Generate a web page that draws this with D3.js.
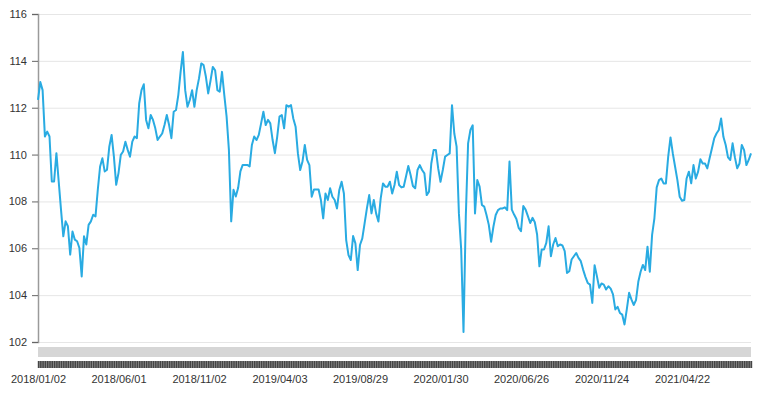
<!DOCTYPE html>
<html>
<head>
<meta charset="utf-8" />
<title>Line chart</title>
<style>
  body { margin: 0; background: #fff; font-family: "Liberation Sans", Arial, sans-serif; }
  .grid line { stroke: #e6e6e6; }
  .grid path { display: none; }
  .y.axis text, .x.axis text { font-size: 11px; fill: #333; }
  .line { fill: none; stroke: #29abe2; stroke-width: 2; stroke-linejoin: round; }
</style>
</head>
<body>
<script src="https://cdn.jsdelivr.net/npm/d3@7"></script>
<div id="graphic"></div>
<script>
// tick labels shown along the x axis (one every 35 samples)
var tickLabels = ["2018/01/02", "2018/06/01", "2018/11/02", "2019/04/03", "2019/08/29",
                  "2020/01/30", "2020/06/26", "2020/11/24", "2021/04/22"];
var labelStep = 35;

var yTicks = [102, 104, 106, 108, 110, 112, 114, 116];

// rate, roughly every third trading day
var values = [
  112.33, 113.1, 112.75, 110.77, 110.98, 110.77, 108.85, 108.85, 110.06, 108.85,
  107.65, 106.51, 107.15, 106.94, 105.73, 106.72, 106.37, 106.3, 106.01, 104.8,
  106.51, 106.16, 107.0, 107.15, 107.43, 107.36, 108.5, 109.49, 109.84, 109.28,
  109.35, 110.34, 110.84, 109.91, 108.71, 109.21, 109.99, 110.13, 110.55, 110.2,
  109.91, 110.55, 110.77, 110.7, 112.18, 112.75, 113.0, 111.48, 111.12, 111.69,
  111.48, 111.12,
  110.62, 110.77, 110.9, 111.26, 111.69, 111.26, 110.7, 111.83, 111.9, 112.54,
  113.53, 114.38, 112.75, 112.04, 112.33, 112.75, 112.04, 112.75, 113.25, 113.89,
  113.82, 113.32, 112.61, 113.15, 113.74, 113.6, 112.75, 112.68, 113.53, 112.54,
  111.62, 110.2, 107.15, 108.5, 108.21, 108.57, 109.28, 109.56, 109.56, 109.56,
  109.49, 110.41, 110.77, 110.62, 110.84, 111.33, 111.83, 111.26, 111.48, 111.33,
  110.62, 110.06,
  110.76, 111.62, 111.69, 111.12, 112.11, 112.04, 112.11, 111.54, 111.19, 110.05,
  109.34, 109.7, 110.41, 109.77, 109.55, 108.2, 108.51, 108.51, 108.51, 108.06,
  107.28, 108.34, 108.06, 108.56, 108.2, 108.06, 107.7, 108.49, 108.84, 108.34,
  106.35, 105.71, 105.5, 106.52, 106.21, 105.07, 106.14, 106.42, 107.06, 107.7,
  108.27, 107.49, 108.06, 107.49, 107.14, 108.13, 108.77, 108.63, 108.63, 108.84,
  108.34,
  108.7, 109.27, 108.7, 108.6, 108.63, 109.06, 109.51, 109.13, 108.66, 108.56,
  109.34, 109.55, 109.34, 109.2, 108.27, 108.42, 109.62, 110.19, 110.19, 109.41,
  108.84, 109.34, 109.91, 109.98, 110.05, 112.11, 110.9, 110.34, 107.49, 105.93,
  102.43, 107.35, 110.48, 111.05, 111.25, 107.49, 108.91, 108.63, 107.85, 107.78,
  107.42, 107.0, 106.28, 106.92, 107.42, 107.63, 107.7, 107.7, 107.75, 107.63,
  109.7,
  107.65, 107.44, 107.25, 106.87, 106.73, 107.8, 107.65, 107.37, 107.08, 107.3,
  107.11, 106.59, 105.23, 105.95, 105.95, 106.23, 106.94, 105.66, 106.16, 106.44,
  106.09, 106.16, 106.12, 105.88, 104.95, 105.02, 105.52, 105.66, 105.8, 105.59,
  105.45, 105.09, 104.78, 104.52, 104.45, 103.67, 105.28, 104.81, 104.31, 104.5,
  104.45, 104.24, 104.38, 104.28, 104.03, 103.39, 103.5, 103.24, 103.17, 102.75,
  103.39,
  104.1, 103.82, 103.58, 103.79, 104.57, 105.0, 105.29, 105.07, 106.07, 105.0,
  106.57, 107.28, 108.6, 108.91, 108.98, 108.77, 108.77, 109.91, 110.73, 110.05,
  109.48, 108.91, 108.2, 108.03, 108.06, 108.98, 109.27, 108.77, 109.55, 108.98,
  109.27, 109.8, 109.62, 109.62, 109.41, 109.84, 110.26, 110.69, 110.9, 111.05,
  111.54, 110.76, 110.41, 109.88, 109.77, 110.48, 109.88, 109.41, 109.62, 110.41,
  110.19, 109.55, 109.77, 110.05
];

var marginLeft = 38, plotRight = 751, plotTop = 14, plotBottom = 342;

var svg = d3.select("#graphic").append("svg")
    .attr("width", 765)
    .attr("height", 394);

var x = d3.scaleLinear()
    .domain([0, values.length - 1])
    .range([marginLeft, plotRight]);

var y = d3.scaleLinear()
    .domain([102, 116])
    .range([plotBottom, plotTop]);

// horizontal grid
svg.append("g")
    .attr("class", "grid")
    .attr("transform", "translate(" + marginLeft + ",0)")
    .call(d3.axisRight(y).tickValues(yTicks).tickSize(plotRight - marginLeft).tickFormat(""));

// y axis
var yAxis = svg.append("g")
    .attr("class", "y axis")
    .attr("transform", "translate(" + marginLeft + ",0)")
    .call(d3.axisLeft(y).tickValues(yTicks).tickSize(6).tickPadding(5));
yAxis.select(".domain").attr("stroke", "#9a9a9a").attr("stroke-width", 1.5);
yAxis.selectAll(".tick line").attr("stroke", "#666");

// gray scroll band under the plot
svg.append("rect")
    .attr("x", marginLeft)
    .attr("y", plotBottom + 5)
    .attr("width", plotRight - marginLeft)
    .attr("height", 10)
    .attr("fill", "#d6d6d6");

// dense ticks, one per sample
svg.append("rect")
    .attr("x", marginLeft)
    .attr("y", plotBottom + 19)
    .attr("width", plotRight - marginLeft)
    .attr("height", 7)
    .attr("fill", "#8a8a8a");
var tickAxis = svg.append("g")
    .attr("transform", "translate(0," + (plotBottom + 19) + ")")
    .call(d3.axisBottom(x).tickValues(d3.range(values.length)).tickSize(7).tickFormat(""));
tickAxis.select(".domain").remove();
tickAxis.selectAll(".tick line").attr("stroke", "#444").attr("stroke-width", 1.4);

// date labels
var labelAxis = svg.append("g")
    .attr("class", "x axis")
    .attr("transform", "translate(0," + (plotBottom + 30) + ")")
    .call(d3.axisBottom(x)
        .tickValues(tickLabels.map(function (d, i) { return i * labelStep; }))
        .tickSize(0)
        .tickPadding(3)
        .tickFormat(function (d, i) { return tickLabels[i]; }));
labelAxis.select(".domain").remove();

// the line
var line = d3.line()
    .x(function (d, i) { return x(i); })
    .y(function (d) { return y(d); });

svg.append("path")
    .datum(values)
    .attr("class", "line")
    .attr("d", line);
</script>
</body>
</html>
